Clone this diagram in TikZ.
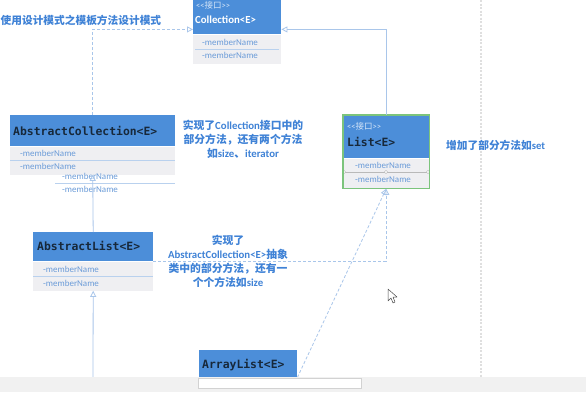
\documentclass[tikz,border=0pt]{standalone}
\usepackage{fontspec}
\setmainfont{Carlito}
\newfontfamily\cjk{Noto Sans CJK SC}
\newfontfamily\monob{DejaVu Sans Mono}
\usetikzlibrary{arrows.meta}

\definecolor{hdr}{HTML}{4C8ED9}
\definecolor{fieldbg}{HTML}{EFEFF2}
\definecolor{fieldtxt}{HTML}{6A9BD8}
\definecolor{divcol}{HTML}{B9D1EE}
\definecolor{conn}{HTML}{A9C6EA}
\definecolor{note}{HTML}{3F82D6}
\definecolor{monotxt}{HTML}{17283A}
\definecolor{selgreen}{HTML}{7CC47C}
\definecolor{stereo}{HTML}{D6E6F8}
\definecolor{barbg}{HTML}{F1F1F1}

\newcommand{\zh}[1]{{\cjk\bfseries #1}}
\newcommand{\la}[1]{{\bfseries #1}}
% interface stereotype, kerned so that << is not turned into a guillemet
\newcommand{\ifacelabel}{<\kern0pt<{\cjk 接口}>\kern0pt>}

\tikzset{
  hdrbox/.style={fill=hdr, draw=none, anchor=north west, inner sep=0pt},
  fieldbox/.style={fill=fieldbg, draw=none, anchor=north west, inner sep=0pt},
  divline/.style={draw=divcol, line width=0.7pt},
  member/.style={anchor=west, inner sep=0pt, text=fieldtxt, font=\fontsize{9}{10}\selectfont},
  classname/.style={anchor=west, inner sep=0pt, text=monotxt, font=\monob\bfseries\fontsize{11.4}{12}\selectfont},
  stereotype/.style={anchor=west, inner sep=0pt, text=stereo, font=\fontsize{8.5}{9}\selectfont},
  notetext/.style={inner sep=0pt, text=note, align=center, font=\fontsize{10.8}{14}\selectfont},
  realize/.style={draw=conn, line width=0.8pt, dash pattern=on 3pt off 2pt, -{Triangle[open,length=6pt,width=6pt]}},
  inherit/.style={draw=conn, line width=0.8pt, -{Triangle[open,length=6pt,width=6pt]}},
}

\begin{document}
\begin{tikzpicture}[x=1pt,y=-1pt]
\useasboundingbox (0,0) rectangle (586,392);
\clip (0,0) rectangle (586,392);
\fill[white] (0,0) rectangle (586,392);

% guide line on the right
\draw[gray!25, line width=1.2pt, dash pattern=on 2pt off 1.5pt] (481,0) -- (481,377);

% title
\node[anchor=west, inner sep=0pt, text=note, font=\fontsize{10.7}{12}\selectfont] (title) at (0.5,20) {\zh{使用设计模式之模板方法设计模式}};

% Collection<E>
\node[hdrbox, minimum width=88pt, minimum height=38pt] (colHead) at (193,-4) {};
\node[fieldbox, minimum width=88pt, minimum height=29pt] (colFields) at (colHead.south west) {};
\node[stereotype] (colSt) at (196,5) {\ifacelabel};
\node[anchor=west, inner sep=0pt, text=white, font=\bfseries\fontsize{10.8}{12}\selectfont] (colName) at (195,20) {Collection<E>};
\node[member] (colM1) at (202,42) {-memberName};
\node[member] (colM2) at (202,55) {-memberName};
\draw[divline] (195,49) -- (279,49);

% AbstractCollection<E>
\node[hdrbox, minimum width=165pt, minimum height=31pt] (acHead) at (10,115) {};
\node[fieldbox, minimum width=165pt, minimum height=28pt] (acFields) at (acHead.south west) {};
\node[classname] (acName) at (13,131) {AbstractCollection<E>};
\node[member] (acM1) at (20,153) {-memberName};
\node[member] (acM2) at (20,166) {-memberName};
\draw[divline] (10,160) -- (175,160);
% rows being dragged below the box
\node[member] (dragM1) at (62,176) {-memberName};
\node[member] (dragM2) at (62,189) {-memberName};
\draw[divline] (55,183) -- (175,183);

% AbstractList<E>
\node[hdrbox, minimum width=120pt, minimum height=29pt] (alHead) at (33,232) {};
\node[fieldbox, minimum width=120pt, minimum height=29pt] (alFields) at (alHead.south west) {};
\node[classname] (alName) at (37,246) {AbstractList<E>};
\node[member] (alM1) at (43,269) {-memberName};
\node[member] (alM2) at (43,283) {-memberName};
\draw[divline] (33,276) -- (153,276);

% List<E>
\node[hdrbox, minimum width=86pt, minimum height=43pt] (listHead) at (343,115) {};
\node[fieldbox, minimum width=86pt, minimum height=30pt] (listFields) at (listHead.south west) {};
\node[stereotype] (listSt) at (347,126) {\ifacelabel};
\node[classname] (listName) at (347,142) {List<E>};
\node[member] (listM1) at (355,165) {-memberName};
\node[member] (listM2) at (355,179) {-memberName};
\draw[gray!55, line width=1pt] (344,172) -- (428,172);
\foreach \hx in {344,386,428}
  \draw[gray!60, fill=white, line width=0.4pt] (\hx,172) circle (1.6pt);
\draw[selgreen, line width=1.2pt] (listHead.north west) rectangle (listFields.south east);

% ArrayList<E>
\node[hdrbox, minimum width=98pt, minimum height=27pt] (arrHead) at (199,350) {};
\node[classname] (arrName) at (202,365) {ArrayList<E>};

% notes
\node[notetext] (note1) at (243,139) {\zh{实现了}\la{Collection}\zh{接口中的}\\\zh{部分方法，还有两个方法}\\\zh{如}\la{size}\zh{、}\la{iterator}};
\node[notetext] (note2) at (228,261) {\zh{实现了}\\\la{AbstractCollection<E>}\zh{抽象}\\\zh{类中的部分方法，还有一}\\\zh{个个方法如}\la{size}};
\node[anchor=west, inner sep=0pt, text=note, font=\fontsize{10.7}{12}\selectfont] (note3) at (446,145) {\zh{增加了部分方法如}\la{set}};

% connectors
\coordinate (alBelow) at (93,377);
\draw[realize] (acHead.north) |- ([yshift=5pt]colHead.south west);
\draw[inherit] (listHead.north) |- ([yshift=5pt]colHead.south east);
\draw[inherit] (alHead.north) -- (acFields.south);
\draw[inherit] (alBelow) -- (alFields.south);
\draw[realize] (alHead.south east) -| (listFields.south);
\draw[realize] (arrHead.south east) -- (listFields.south);

% status bar
\fill[barbg] (0,377) rectangle (586,392);
\draw[gray!35, fill=white, line width=0.6pt] (198,378) rectangle (361,388);

% mouse pointer
\draw[gray!60!black, fill=white, line width=0.5pt, line join=round]
  (388,289) -- (388,301) -- (391,298) -- (393,303) -- (395,302) -- (393,297) -- (397,297) -- cycle;
\end{tikzpicture}
\end{document}
